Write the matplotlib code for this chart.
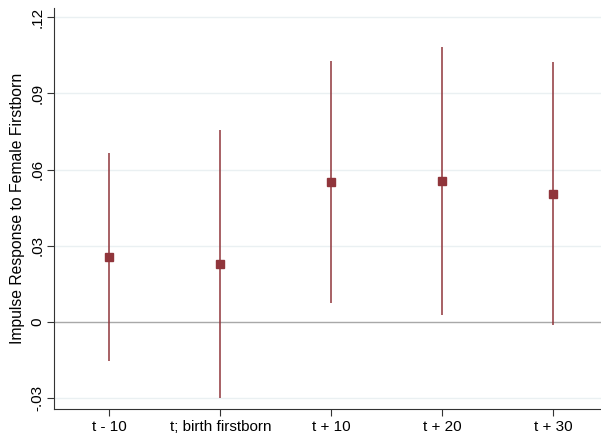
import numpy as np
import matplotlib
matplotlib.use("Agg")
import matplotlib.pyplot as plt

plt.rcParams['font.family'] = ['Liberation Sans', 'DejaVu Sans']

# event-time periods and estimates
periods = ["t - 10", "t; birth firstborn", "t + 10", "t + 20", "t + 30"]
coef = [0.0255, 0.0227, 0.0550, 0.0554, 0.0503]
ci_low = [-0.0155, -0.0300, 0.0074, 0.0026, -0.0013]
ci_high = [0.0667, 0.0756, 0.1028, 0.1081, 0.1022]

yticks = [-0.03, 0, 0.03, 0.06, 0.09, 0.12]
ytick_labels = ["-.03", "0", ".03", ".06", ".09", ".12"]

red = "#90353b"

fig = plt.figure(figsize=(6.01, 4.34), dpi=100)
ax = fig.add_axes([54 / 601, 25 / 434, 1 - 54 / 601, 401 / 434])

x = np.arange(1, len(periods) + 1)

for yv in yticks:
    if yv != 0:
        ax.axhline(yv, color="#eaf0f2", lw=1.0, zorder=0)
ax.axhline(0, color="#a8a8a8", lw=1.0, zorder=1)

ax.vlines(x, ci_low, ci_high, color=red, lw=1.1, zorder=2)
ax.plot(x, coef, "s", color=red, markersize=6.3, zorder=3)

ax.set_xlim(0.5, 5 + 48 / 110.7)
ax.set_ylim(-0.0343, 0.1236)

ax.set_xticks(x)
ax.set_xticklabels(periods, fontsize=11)
ax.set_yticks(yticks)
ax.set_yticklabels(ytick_labels, fontsize=11, rotation=90, va="center")
ax.tick_params(axis="both", length=5, width=0.8, color="#333333")
ax.tick_params(axis="y", pad=2)
ax.tick_params(axis="x", pad=3)

ax.set_ylabel("Impulse Response to Female Firstborn", fontsize=11.3, labelpad=4)

for side in ["top", "right"]:
    ax.spines[side].set_visible(False)
for side in ["left", "bottom"]:
    ax.spines[side].set_color("#333333")
    ax.spines[side].set_linewidth(0.8)

fig.savefig("out.png", dpi=100)
